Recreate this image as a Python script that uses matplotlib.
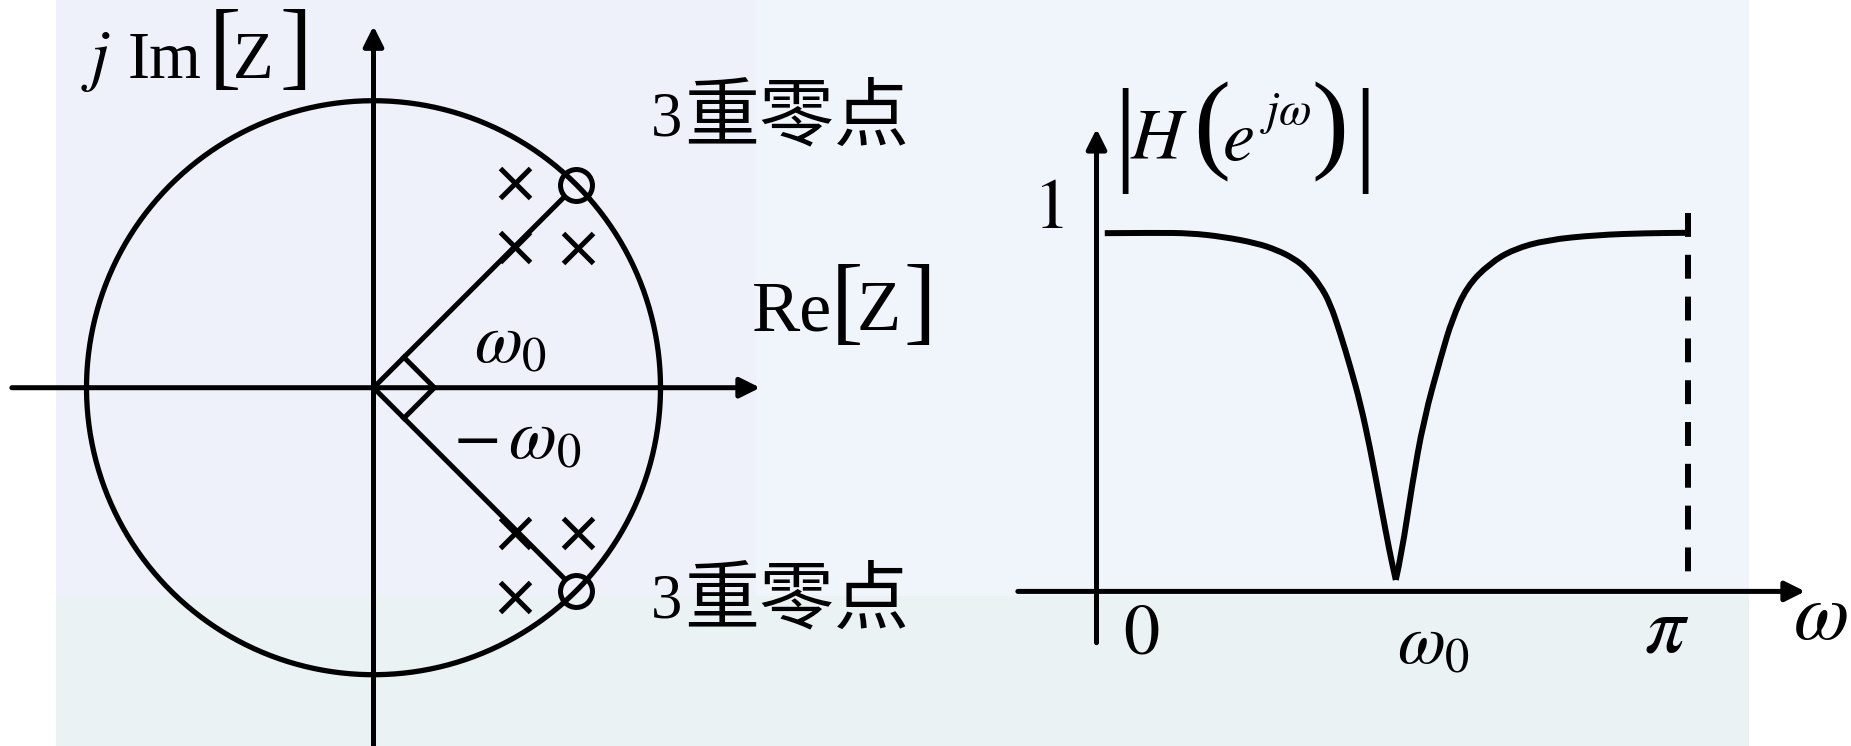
import numpy as np
import matplotlib
matplotlib.use("Agg")
import matplotlib.pyplot as plt
from matplotlib.patches import Rectangle, PathPatch
from matplotlib.path import Path

plt.rcParams['mathtext.fontset'] = 'stix'
plt.rcParams['font.family'] = ['Liberation Serif', 'Noto Sans CJK SC']

W, H = 1851, 746

# pole / zero positions on the z-plane (unit circle radius = 1)
zeros_re = [0.707, 0.707]
zeros_im = [0.707, -0.707]
poles_re = [0.492, 0.492, 0.713, 0.492, 0.713, 0.492]
poles_im = [0.713, 0.489, 0.486, -0.506, -0.506, -0.729]

# sketched magnitude response, omega in units of pi
w_over_pi = [0.014, 0.102, 0.158, 0.214, 0.271, 0.305, 0.333, 0.355, 0.378,
             0.395, 0.412, 0.429, 0.446, 0.462, 0.479, 0.496, 0.506, 0.516,
             0.533, 0.553, 0.584, 0.601, 0.626, 0.665, 0.705, 0.761, 0.846,
             0.930, 1.0]
mag = [0.999, 1.0, 0.999, 0.989, 0.971, 0.952, 0.929, 0.901, 0.854,
       0.803, 0.720, 0.627, 0.525, 0.404, 0.255, 0.106, 0.032, 0.106,
       0.292, 0.478, 0.664, 0.757, 0.850, 0.915, 0.954, 0.980, 0.994,
       0.999, 1.0]

BG = '#f0f5fc'
LW_AX = 3.6

fig = plt.figure(figsize=(W / 100, H / 100), dpi=100, facecolor=BG)

# faint backdrop
bg = fig.add_axes([0, 0, 1, 1])
bg.set_xlim(0, W)
bg.set_ylim(H, 0)
bg.axis('off')
bg.add_patch(Rectangle((56, 0), 700, 600, color='#eef0fa', lw=0))
bg.add_patch(Rectangle((56, 596), 1693, 150, color='#eaf2f3', lw=0))
bg.add_patch(Rectangle((0, 0), 56, H, color='white', lw=0))
bg.add_patch(Rectangle((1749, 0), 102, H, color='white', lw=0))


def put(x, y, s, size, ha='left', va='baseline', **kw):
    # place a text piece at figure pixel (x, y), y measured from the top
    fig.text(x / W, 1 - y / H, s, fontsize=size, ha=ha, va=va, **kw)


def arrow(ax, x0, y0, x1, y1):
    ax.annotate('', xy=(x1, y1), xytext=(x0, y0),
                arrowprops=dict(arrowstyle='-|>', lw=LW_AX, color='black',
                                mutation_scale=30, shrinkA=0, shrinkB=0))


def smooth_path(xs, ys):
    # quadratic bezier through the midpoints, exact at both ends
    pts = list(zip(xs, ys))
    verts, codes = [pts[0]], [Path.MOVETO]
    for i in range(1, len(pts) - 1):
        mid = ((pts[i][0] + pts[i + 1][0]) / 2, (pts[i][1] + pts[i + 1][1]) / 2)
        verts += [pts[i], mid]
        codes += [Path.CURVE3, Path.CURVE3]
    verts.append(pts[-1])
    codes.append(Path.LINETO)
    return Path(verts, codes)


# ---- z-plane ----
ax1 = fig.add_axes([0, 0, 950 / W, 1])
ax1.set_xlim(-1.3014, 2.0087)
ax1.set_ylim(-1.2484, 1.3509)
ax1.axis('off')

t = np.linspace(0, 2 * np.pi, 400)
ax1.plot(np.cos(t), np.sin(t), color='black', lw=3.8)
arrow(ax1, -1.26, 0, 1.347, 0)
arrow(ax1, 0, -1.30, 0, 1.26)

# radial lines to the zeros and the right-angle mark
for zr, zi in zip(zeros_re, zeros_im):
    ax1.plot([0, 0.94 * zr], [0, 0.94 * zi], color='black', lw=LW_AX)
s = 0.15
ax1.plot([s * 0.707, s * 1.414, s * 0.707], [s * 0.707, 0, -s * 0.707],
         color='black', lw=LW_AX)

ax1.plot(poles_re, poles_im, 'x', color='black', ms=22, mew=3.6)
ax1.plot(zeros_re, zeros_im, 'o', mfc='none', mec='black', ms=23, mew=3.6)

# j Im[Z]
put(81, 78.5, r'$j$', 50)
put(128, 78.5, 'Im', 48)
put(225, 77, '[', 70, ha='center')
put(233, 78.5, 'Z', 48)
put(296, 77, ']', 70, ha='center')

# Re[Z]
put(752, 330, 'Re', 52)
put(847, 332, '[', 70, ha='center')
put(857, 330, 'Z', 52)
put(920, 332, ']', 70, ha='center')

put(510, 345, r'$\omega_0$', 50, ha='center', va='center')
put(517, 441, r'$-\,\omega_0$', 50, ha='center', va='center')

for base in (135.5, 618):
    put(651, base, '3', 45)
    put(684, base + 4, '重零点', 54, family='Noto Sans CJK SC')

# ---- magnitude response ----
ax2 = fig.add_axes([950 / W, 0, 901 / W, 1])
ax2.set_xlim(-0.2477 * np.pi, 1.2756 * np.pi)
ax2.set_ylim(-0.4311, 1.6492)
ax2.axis('off')

w = np.array(w_over_pi) * np.pi
m = np.array(mag)
k = int(np.argmin(m))  # the notch stays a sharp corner
for sl in (slice(0, k + 1), slice(k, None)):
    ax2.add_patch(PathPatch(smooth_path(w[sl], m[sl]), fill=False,
                            edgecolor='black', lw=4.3, joinstyle='round',
                            capstyle='butt'))
ax2.plot([np.pi, np.pi], [1.055, 0.04], color='black', lw=4.3,
         linestyle=(0, (4.0, 3.0)))
arrow(ax2, -0.133 * np.pi, 0, 1.198 * np.pi, 0)
arrow(ax2, 0, -0.143, 0, 1.290)

# |H(e^{jw})|
put(1125, 169, '|', 84, ha='center')
put(1130, 158, r'$H$', 52)
put(1212, 158, '(', 80, ha='center')
put(1222, 160, r'$e$', 52)
put(1260, 124, r'$j\omega$', 34)
put(1330, 158, ')', 80, ha='center')
put(1365, 169, '|', 84, ha='center')

put(1048, 210, r'$\mathrm{1}$', 52, ha='center', va='center')
put(1141, 636, r'$\mathrm{0}$', 52, ha='center', va='center')
put(1433, 646, r'$\omega_0$', 50, ha='center', va='center')
put(1667, 632, r'$\pi$', 58, ha='center', va='center')
put(1820, 620, r'$\omega$', 58, ha='center', va='center')

fig.savefig('out.png', dpi=100, facecolor=BG)
